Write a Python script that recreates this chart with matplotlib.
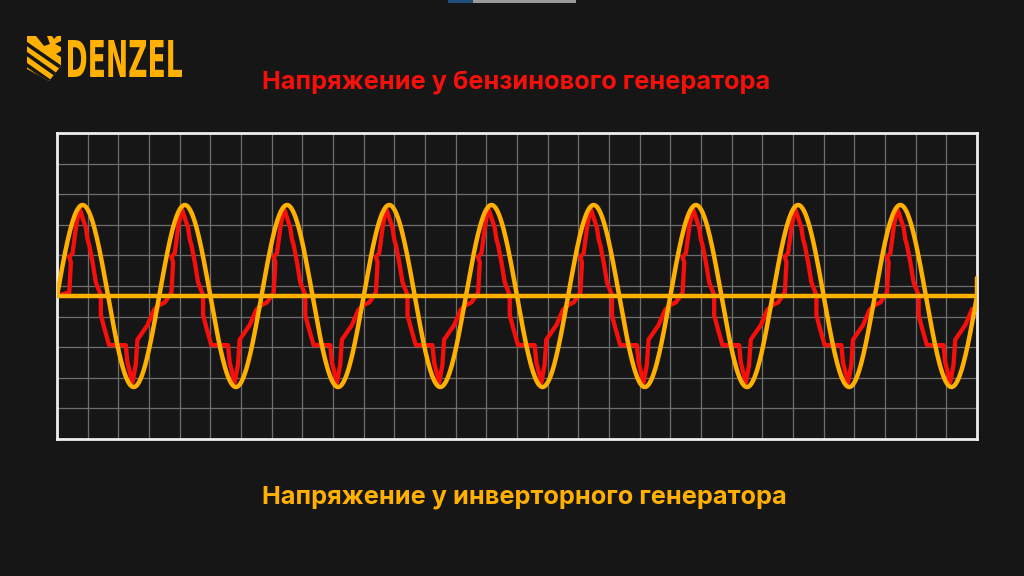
import matplotlib
matplotlib.use("Agg")
import matplotlib.pyplot as plt
import numpy as np
from matplotlib.patches import PathPatch, Polygon, Rectangle
from matplotlib.textpath import TextPath
from matplotlib.font_manager import FontProperties
from matplotlib.transforms import Affine2D

# one period of the petrol generator voltage
# phase = fraction of the inverter sine period, value = fraction of its amplitude
red_phase = [0.00, 0.055, 0.12, 0.136, 0.12, 0.152, 0.185, 0.218, 0.25, 0.282,
             0.299, 0.315, 0.348, 0.38, 0.429, 0.429, 0.462, 0.51, 0.673, 0.689,
             0.738, 0.77, 0.787, 0.885, 0.95]
red_value = [-0.10, -0.07, 0.04, 0.37, 0.43, 0.47, 0.75, 0.97, 0.86, 0.75,
             0.62, 0.56, 0.37, 0.15, 0.01, -0.21, -0.35, -0.54, -0.54, -0.73,
             -0.95, -0.76, -0.48, -0.32, -0.15]
n_periods = 9
inverter_amp = 1.0
inverter_end_value = 0.2

title_top = "Напряжение у бензинового генератора"
title_bottom = "Напряжение у инверторного генератора"

BG = "#161616"
RED = "#f5100c"
YELLOW = "#ffb000"
GRID = "#6e6e6e"

# tile the petrol waveform over all periods
red_x, red_y = [0.0], [0.0]
for k in range(n_periods):
    for p, v in zip(red_phase, red_value):
        if k == 0 and p < 0.12:
            continue
        red_x.append(k + p)
        red_y.append(v)

yel_x = np.linspace(0, n_periods, 1200)
yel_y = inverter_amp * np.sin(2 * np.pi * yel_x)
yel_x = np.append(yel_x, n_periods)
yel_y = np.append(yel_y, inverter_end_value)

W, H = 1024, 576
fig = plt.figure(figsize=(W / 100, H / 100), dpi=100, facecolor=BG)

ax = fig.add_axes([57 / W, (H - 439) / H, 920 / W, 306 / H], facecolor=BG)
ylo, yhi = -143 / 91, 163 / 91
ax.set_xlim(0, n_periods)
ax.set_ylim(ylo, yhi)
ax.set_xticks(np.linspace(0, n_periods, 31))
ax.set_yticks(np.linspace(ylo, yhi, 11))
ax.tick_params(length=0, labelbottom=False, labelleft=False)
ax.grid(color=GRID, linewidth=0.9)
for s in ax.spines.values():
    s.set_color("#eeeeee")
    s.set_linewidth(2)

ax.plot(red_x, red_y, color=RED, linewidth=3.1, solid_joinstyle="round", zorder=3)
ax.axhline(0, color=YELLOW, linewidth=3.2, zorder=4)
ax.plot(yel_x, yel_y, color=YELLOW, linewidth=3.2, solid_joinstyle="round",
        solid_capstyle="round", zorder=4)

fig.text(516 / W, 1 - 82 / H, title_top, ha="center", va="center",
         color=RED, fontsize=18.2, fontweight="bold", family=["Inter", "DejaVu Sans"])
fig.text(524 / W, 1 - 497 / H, title_bottom, ha="center", va="center",
         color=YELLOW, fontsize=18.2, fontweight="bold", family=["Inter", "DejaVu Sans"])

# overlay in pixel coordinates for the logo and top strip
ov = fig.add_axes([0, 0, 1, 1], facecolor="none")
ov.set_xlim(0, W)
ov.set_ylim(H, 0)
ov.axis("off")

ov.add_patch(Rectangle((448, 0), 25, 2.5, color="#1d4f7c", lw=0))
ov.add_patch(Rectangle((473, 0), 103, 2.5, color="#9a9a9a", lw=0))

tp = TextPath((0, 0), "DENZEL", prop=FontProperties(family="DejaVu Sans", weight="bold"))
bb = tp.get_extents()
x0, x1, y0, y1 = 68, 182, 40, 77
tr = (Affine2D().translate(-bb.x0, -bb.y0)
      .scale((x1 - x0) / bb.width, -(y1 - y0) / bb.height)
      .translate(x0, y1))
ov.add_patch(PathPatch(tr.transform_path(tp), color=YELLOW, lw=0))

# shield emblem: yellow shield with dark diagonal cuts
shield = Polygon([(27, 36), (61, 36), (61, 66), (49, 81), (27, 69)],
                 closed=True, color=YELLOW, lw=0)
ov.add_patch(shield)
for (ax0, ay0), (ax1, ay1) in [((24, 42), (66, 71)), ((24, 52), (62, 79)),
                               ((24, 63), (58, 87))]:
    cut = ov.plot([ax0, ax1], [ay0, ay1], color=BG, linewidth=2.6,
                  solid_capstyle="butt")[0]
    cut.set_clip_path(shield)
for notch in ([(36, 36), (47, 36), (50, 44), (44, 46)],
              [(61, 41), (55, 44), (61, 47)],
              [(61, 51), (56, 54), (61, 57)],
              [(52, 36), (57, 36), (54, 39)]):
    ov.add_patch(Polygon(notch, closed=True, color=BG, lw=0))

fig.savefig("out.png", dpi=100, facecolor=BG)
